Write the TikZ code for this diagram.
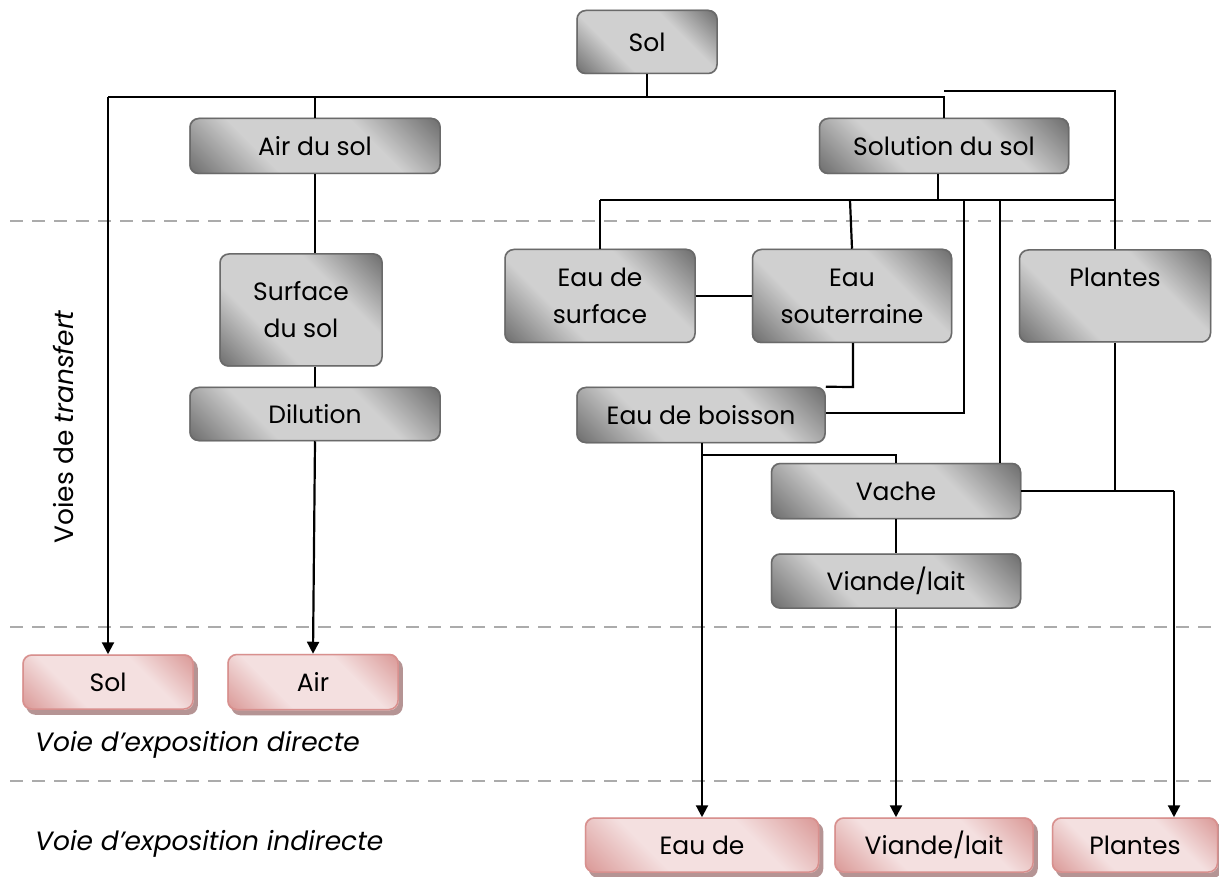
\documentclass[tikz,border=0pt]{standalone}
\usepackage{fontspec}
\setmainfont{Poppins}
\usetikzlibrary{arrows.meta}
\definecolor{gdark}{HTML}{6B6B6B}
\definecolor{glight}{HTML}{D0D0D0}
\definecolor{gborder}{HTML}{6A6A6A}
\definecolor{pdark}{HTML}{D99694}
\definecolor{plight}{HTML}{F4E0E0}
\definecolor{pborder}{HTML}{D8908E}
\definecolor{pshadow}{HTML}{B59494}
\definecolor{sepgray}{HTML}{ABABAB}
\pgfdeclareverticalshading{gshade}{100bp}{color(0bp)=(gdark); color(25bp)=(gdark); color(40bp)=(glight); color(60bp)=(glight); color(75bp)=(gdark); color(100bp)=(gdark)}
\pgfdeclareverticalshading{pshade}{100bp}{color(0bp)=(pdark); color(25bp)=(pdark); color(40bp)=(plight); color(60bp)=(plight); color(75bp)=(pdark); color(100bp)=(pdark)}
\pgfdeclarelayer{bg}
\pgfsetlayers{bg,main}
\newcommand\myshadebox[2]{%
  \begin{scope}
    \clip[rounded corners=9pt] (#1.south west) rectangle (#1.north east);
    \pgfpointanchor{#1}{south west}\pgfgetlastxy{\myax}{\myay}%
    \pgfpointanchor{#1}{north east}\pgfgetlastxy{\mybx}{\myby}%
    \pgfmathsetmacro\myR{(abs(\mybx-\myax)+abs(\myby-\myay))/2.8284}%
    \shade[shading=#2, transform canvas={shift={(#1.center)}, rotate=-45}]
      (-\myR pt,-\myR pt) rectangle (\myR pt,\myR pt);
  \end{scope}}
\newcommand\myshadow[1]{%
  \fill[pshadow, rounded corners=9pt] ([shift={(4pt,-5pt)}]#1.south west) rectangle ([shift={(4pt,-5pt)}]#1.north east);}
\begin{document}
\begin{tikzpicture}[x=1pt,y=-1pt,
  boxtext/.style={font=\fontsize{25}{37}\selectfont, align=center, inner sep=0pt, text=black},
  gbox/.style={boxtext, draw=gborder, line width=1.5pt, rounded corners=9pt},
  pbox/.style={boxtext, draw=pborder, line width=1.5pt, rounded corners=9pt},
  conn/.style={line width=2.2pt, black},
  arr/.style={conn, -{Triangle[width=12pt,length=12pt]}},
  sepline/.style={sepgray, line width=2.2pt, dash pattern=on 13pt off 9pt},
  lbl/.style={font=\fontsize{26.5}{30}\selectfont\itshape, inner sep=0pt, anchor=west}]
\useasboundingbox (0,0) rectangle (1219,877);

% separators
\coordinate (s1a) at (10,221); \coordinate (s1b) at (1219,221);
\coordinate (s2a) at (10,627); \coordinate (s2b) at (1219,627);
\coordinate (s3a) at (10,781); \coordinate (s3b) at (1219,781);
\draw[sepline] (s1a) -- (s1b);
\draw[sepline] (s2a) -- (s2b);
\draw[sepline] (s3a) -- (s3b);

% grey boxes
\node[gbox, minimum width=140, minimum height=63] (sol) at (647,42) {Sol};
\node[gbox, minimum width=250, minimum height=55] (airsol) at (315,146) {Air du sol};
\node[gbox, minimum width=249, minimum height=55] (solsol) at (944,146) {Solution du sol};
\node[gbox, minimum width=162, minimum height=112] (surf) at (301,310) {Surface\\du sol};
\node[gbox, minimum width=250, minimum height=53] (dil) at (315,414) {Dilution};
\node[gbox, minimum width=190, minimum height=93] (eausurf) at (600,296) {Eau de\\surface};
\node[gbox, minimum width=199, minimum height=93] (eausout) at (852,296) {Eau\\souterraine};
\node[gbox, minimum width=191, minimum height=92] (plantes) at (1115,296) {Plantes\\\mbox{}};
\node[gbox, minimum width=248, minimum height=55] (boisson) at (701,415) {Eau de boisson};
\node[gbox, minimum width=249, minimum height=55] (vache) at (896,491) {Vache};
\node[gbox, minimum width=249, minimum height=54] (viande) at (896,581) {Viande/lait};

% pink boxes
\node[pbox, minimum width=170, minimum height=54] (psol) at (108,682) {Sol};
\node[pbox, minimum width=170, minimum height=55] (pair) at (313,682) {Air};
\node[pbox, minimum width=233, minimum height=54] (peau) at (702,845) {Eau de};
\node[pbox, minimum width=198, minimum height=54] (pviande) at (934,845) {Viande/lait};
\node[pbox, minimum width=165, minimum height=54] (pplantes) at (1135,845) {Plantes};

% fills on background layer
\begin{pgfonlayer}{bg}
  \fill[white] (0,0) rectangle (1219,877);
  \foreach \n in {psol,pair,peau,pviande,pplantes} {\myshadow{\n}}
  \foreach \n in {sol,airsol,solsol,surf,dil,eausurf,eausout,plantes,boisson,vache,viande} {\myshadebox{\n}{gshade}}
  \foreach \n in {psol,pair,peau,pviande,pplantes} {\myshadebox{\n}{pshade}}
\end{pgfonlayer}

% labels
\node[lbl, rotate=90, anchor=center] (ltrans) at (63,427) {\upshape Voies de \itshape transfert};
\node[lbl] (ldir) at (35,745) {Voie d’exposition directe};
\node[lbl] (lind) at (35,844) {Voie d’exposition indirecte};

% junction coordinates
\coordinate (h1) at (108,97);
\coordinate (h2) at (944,97);
\coordinate (h3) at (944,91);
\coordinate (h4) at (1115,91);
\coordinate (k1) at (600,200);
\coordinate (k2) at (1115,200);
\coordinate (k3) at (964,200);
\coordinate (k4) at (964,413);
\coordinate (k5) at (1000,200);
\coordinate (k6) at (853,387);
\coordinate (k7) at (702,455);
\coordinate (k8) at (896,455);
\coordinate (k9) at (1115,491);
\coordinate (k10) at (1174,491);
\coordinate (k11) at (850,200);

% connectors
\draw[conn] (sol.south) -- (sol.south |- h1);
\draw[conn] (solsol.north) -- (h2) -- (h1);
\draw[arr] (h1) -- (h1 |- psol.north);
\draw[conn] (airsol.north) -- (airsol.north |- h1);
\draw[conn] (h3) -- (h4) -- (plantes.north);
\draw[conn] (airsol.south) -- (airsol.south |- surf.north);
\draw[conn] (airsol.south |- surf.south) -- (airsol.south |- dil.north);
\draw[arr] (dil.south) -- (pair.north);
\draw[conn] ([xshift=-6pt]solsol.south) -- ([xshift=-6pt]solsol.south |- k1);
\draw[conn] (k1) -- (k2);
\draw[conn] (k1) -- (eausurf.north);
\draw[conn] (k11) -- (eausout.north);
\draw[conn] (eausurf.east) -- (eausout.west);
\draw[conn] (eausout.south -| k6) -- (k6) -- (boisson.north east);
\draw[conn] (k3) -- (k4) -- (boisson.east |- k4);
\draw[conn] (k5) -- (vache.north -| k5);
\draw[arr] (boisson.south -| k7) -- (k7 |- peau.north);
\draw[conn] (k7) -- (k8) -- (vache.north);
\draw[conn] (vache.south) -- (viande.north);
\draw[arr] (viande.south) -- (viande.south |- pviande.north);
\draw[conn] (plantes.south) -- (k9);
\draw[conn] (vache.east) -- (k10);
\draw[arr] (k10) -- (k10 |- pplantes.north);
\end{tikzpicture}
\end{document}
